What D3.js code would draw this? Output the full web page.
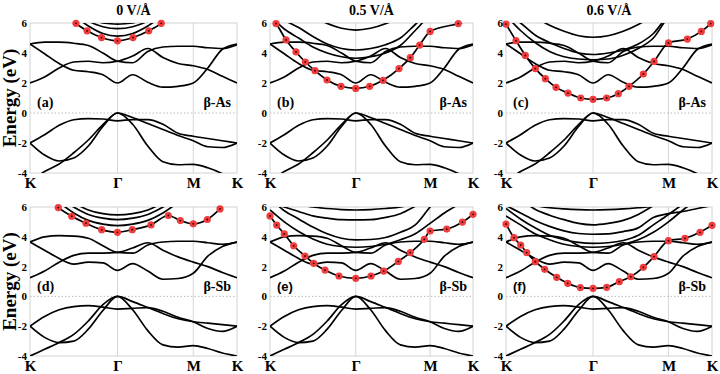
<!DOCTYPE html>
<meta charset="utf-8">
<style>
body { margin: 0; background: #fff; }
svg { display: block; }
.band { fill: none; stroke: #000; stroke-width: 1.7; }
.frame { fill: none; stroke: #d2d2d2; stroke-width: 1; }
.grid { stroke: #d6d6d6; stroke-width: 1; }
.zero { stroke: #bdbdbd; stroke-width: 1; stroke-dasharray: 1.5,2; }
.serif { font-family: "Liberation Serif", "Times New Roman", serif; font-weight: bold; }
.sans { font-family: "Liberation Sans", Arial, sans-serif; font-weight: bold; }
</style>
<svg width="720" height="374"></svg>
<script src="https://d3js.org/d3.v7.min.js"></script>
<script>

// k path K - Γ - M - K (segment lengths) and sampling steps per segment
var segLen = [1.3333, 1.1547, 0.6667];
var kSteps = [6, 5, 3];
var kLabels = ["K", "Γ", "M", "K"];
var yTicks = [6, 4, 2, 0, -2, -4];
var fields = ["0 V/Å", "0.5 V/Å", "0.6 V/Å"];
var panelTags = ["(a)", "(b)", "(c)", "(d)", "(e)", "(f)"];
var materials = ["β-As", "β-Sb"];

// beta-As bands, same in (a)-(c): energy (eV) on the k grid
var asBands = [
  [-2.0, -1.45, -0.82, -0.45, -0.37, -0.4, -0.52, -0.44, -0.44, -0.75, -1.35, -1.55, -1.7, -1.85, -2.0],
  [-2.0, -2.8, -3.2, -3.0, -2.2, -0.9, 0, -0.75, -2.2, -3.25, -3.45, -3.42, -3.65, -4.05, -4.6],
  [-4.6, -3.9, -3.4, -2.65, -1.8, -0.78, 0, -0.3, -0.7, -1.1, -1.5, -1.85, -2.25, -2.3, -2.0],
  [4.6, 4.72, 4.72, 4.65, 4.5, 4.0, 3.45, 3.35, 4.1, 4.4, 4.45, 4.45, 4.35, 4.3, 4.55],
  [4.6, 3.95, 3.3, 2.85, 2.75, 2.55, 2.0, 2.55, 2.05, 1.72, 1.78, 2.0, 3.0, 4.25, 4.6],
  [2.0, 2.4, 3.0, 3.4, 3.45, 3.35, 3.45, 3.8, 4.3, 3.7, 3.3, 3.15, 2.9, 2.45, 2.0]
];

// beta-Sb bands, same in (d)-(f)
var sbBands = [
  [-2.0, -1.35, -0.9, -0.68, -0.62, -0.72, -0.85, -0.8, -0.75, -1.0, -1.4, -1.7, -2.15, -2.35, -2.0],
  [-2.0, -2.75, -3.1, -3.0, -2.2, -0.95, 0, -0.9, -2.3, -3.25, -3.4, -3.3, -3.5, -3.8, -4.0],
  [-4.0, -3.55, -3.1, -2.55, -1.65, -0.55, 0, -0.35, -0.75, -1.15, -1.5, -1.7, -1.8, -1.9, -2.0],
  [3.65, 4.0, 4.08, 4.05, 3.9, 3.4, 2.95, 2.9, 3.45, 3.65, 3.7, 3.7, 3.6, 3.5, 3.65],
  [3.65, 3.1, 2.55, 2.17, 2.3, 2.25, 1.75, 2.2, 1.7, 1.15, 1.2, 1.55, 2.7, 3.35, 3.65],
  [1.25, 1.7, 2.3, 2.75, 2.9, 2.9, 2.95, 3.25, 3.6, 3.1, 2.65, 2.3, 2.0, 1.6, 1.25]
];

// upper (field dependent) bands per panel
var extraA = [
  [7, 7, 7, 6.5, 5.8, 5.3, 5.13, 5.3, 5.8, 6.5, 7, 7, 7, 7, 7],
  [7, 7, 7, 7, 6.15, 5.75, 5.62, 5.75, 6.15, 7, 7, 7, 7, 7, 7],
  [7, 7, 7, 7, 6.5, 6.0, 5.93, 6.0, 6.5, 7, 7, 7, 7, 7, 7]
];
var extraB = [
  [7, 7, 7, 6.4, 5.97, 5.65, 5.53, 5.65, 5.95, 6.4, 7, 7, 7, 7, 7],
  [7, 6.2, 5.7, 5.1, 4.6, 4.3, 4.2, 4.3, 4.55, 5.0, 5.9, 6.8, 7, 7, 7],
  [6.5, 5.6, 5.0, 4.4, 4.0, 3.75, 3.65, 3.75, 4.0, 4.5, 5.5, 6.5, 7, 7, 7]
];
var extraC = [
  [7, 7, 6.4, 5.85, 5.45, 5.15, 5.05, 5.15, 5.45, 5.9, 6.5, 7, 7, 7, 7],
  [6.6, 6.0, 5.2, 4.7, 4.3, 4.0, 3.9, 4.0, 4.2, 4.6, 5.3, 6.5, 7, 7, 7],
  [6.5, 5.5, 4.7, 4.1, 3.75, 3.6, 3.55, 3.6, 3.85, 4.3, 5.0, 6.4, 7, 7, 7]
];
var extraD = [
  [7, 7, 6.3, 5.6, 5.1, 4.85, 4.75, 4.85, 5.1, 5.6, 6.3, 7, 7, 7, 7],
  [7, 7, 6.6, 6.0, 5.5, 5.25, 5.15, 5.25, 5.5, 6.0, 6.6, 7, 7, 7, 7],
  [7, 7, 7, 6.3, 5.8, 5.55, 5.47, 5.55, 5.8, 6.3, 7, 7, 7, 7, 7]
];
var extraE = [
  [7, 6.6, 6.2, 6.0, 5.9, 5.83, 5.8, 5.83, 5.9, 6.0, 6.3, 7, 7, 7, 7],
  [6.4, 6.0, 5.7, 5.4, 5.25, 5.15, 5.13, 5.15, 5.3, 5.55, 6.05, 6.6, 7, 7, 7],
  [6.6, 5.75, 5.2, 4.65, 4.2, 3.9, 3.79, 3.82, 3.95, 4.3, 4.8, 6.0, 7, 7, 7],
  [5.8, 5.0, 4.35, 3.85, 3.5, 3.35, 3.3, 3.35, 3.5, 3.8, 4.2, 4.9, 5.6, 6.2, 7]
];
var extraF = [
  [7, 6.3, 6.1, 5.95, 5.87, 5.82, 5.8, 5.82, 5.87, 5.95, 6.05, 6.3, 7, 7, 7],
  [7, 6.5, 5.85, 5.45, 5.15, 4.9, 4.8, 4.9, 5.1, 5.5, 6.1, 6.8, 7, 7, 7],
  [6.1, 5.6, 5.1, 4.7, 4.4, 4.22, 4.17, 4.2, 4.35, 4.6, 5.3, 5.55, 5.7, 5.9, 6.1],
  [5.9, 5.2, 4.6, 4.1, 3.8, 3.62, 3.56, 3.6, 3.75, 4.1, 4.8, 5.5, 6.2, 7, 7],
  [5.4, 4.8, 4.2, 3.8, 3.5, 3.35, 3.3, 3.35, 3.5, 3.8, 4.3, 5.0, 5.8, 6.5, 7]
];

// red-marked band: [k, energy]; points at or below 6 eV carry a marker
var redA = [[0.5, 6.9], [0.70, 5.98], [0.87, 5.48], [1.09, 5.03], [1.333, 4.81], [1.57, 5.03],
  [1.81, 5.48], [2.0, 5.98], [2.2, 6.9]];
var redB = [[0, 6.35], [0.093, 5.96], [0.249, 4.87], [0.404, 4.07], [0.549, 3.4], [0.699, 2.82],
  [0.886, 2.2], [1.103, 1.78], [1.333, 1.64], [1.549, 1.78], [1.756, 2.18], [2.005, 2.96],
  [2.18, 3.69], [2.326, 4.53], [2.488, 5.44], [2.926, 5.96], [3.155, 6.25]];
var redC = [[0, 5.93], [0.153, 4.82], [0.296, 3.84], [0.449, 2.96], [0.603, 2.29], [0.766, 1.71],
  [0.949, 1.33], [1.144, 1.0], [1.333, 0.91], [1.542, 1.0], [1.72, 1.29], [1.884, 1.78],
  [2.103, 2.6], [2.267, 3.44], [2.488, 4.67], [2.777, 4.93], [2.991, 5.44], [3.135, 5.96], [3.155, 6.05]];
var redD = [[0.25, 6.7], [0.431, 5.96], [0.636, 5.38], [0.853, 4.91], [1.093, 4.48], [1.333, 4.3],
  [1.559, 4.48], [1.844, 4.8], [2.108, 5.43], [2.291, 5.09], [2.488, 4.87], [2.702, 5.16],
  [2.896, 5.87], [3.05, 6.6]];
var redE = [[0, 5.4], [0.104, 4.79], [0.222, 4.19], [0.368, 3.4], [0.544, 2.71], [0.679, 2.22],
  [0.855, 1.77], [1.072, 1.37], [1.333, 1.21], [1.57, 1.37], [1.767, 1.7], [1.994, 2.35],
  [2.18, 2.94], [2.398, 3.83], [2.488, 4.39], [2.747, 4.52], [2.99, 4.99], [3.155, 5.51]];
var redF = [[0, 4.86], [0.1225, 3.94], [0.225, 3.45], [0.317, 2.94], [0.449, 2.33], [0.593, 1.82],
  [0.776, 1.28], [0.945, 0.88], [1.138, 0.59], [1.333, 0.54], [1.542, 0.61], [1.735, 0.99],
  [1.91, 1.32], [2.103, 1.95], [2.267, 2.67], [2.488, 3.74], [2.741, 3.9], [2.971, 4.3], [3.155, 4.77]];

var svg = d3.select("svg");

var xCols = [[30, 237], [270, 473], [506, 712]];
var yRows = [[23, 173], [207, 356]];

var kGrid = [0];
segLen.forEach(function(len, s) {
  var k0 = kGrid[kGrid.length - 1];
  for (var j = 1; j <= kSteps[s]; j++) kGrid.push(k0 + len * j / kSteps[s]);
});
var kMarks = [0];
segLen.forEach(function(len) { kMarks.push(kMarks[kMarks.length - 1] + len); });
var kEnd = kMarks[3];

var panels = [
  {row: 0, col: 0, bands: asBands, extra: extraA, red: redA},
  {row: 0, col: 1, bands: asBands, extra: extraB, red: redB},
  {row: 0, col: 2, bands: asBands, extra: extraC, red: redC},
  {row: 1, col: 0, bands: sbBands, extra: extraD, red: redD},
  {row: 1, col: 1, bands: sbBands, extra: extraE, red: redE},
  {row: 1, col: 2, bands: sbBands, extra: extraF, red: redF}
];

panels.forEach(function(p, i) {
  var xr = xCols[p.col], yr = yRows[p.row];
  var x = d3.scaleLinear().domain([0, kEnd]).range(xr);
  var y = d3.scaleLinear().domain([-4, 6]).range([yr[1], yr[0]]);
  var g = svg.append("g");

  g.append("clipPath").attr("id", "clip" + i)
    .append("rect")
    .attr("x", xr[0]).attr("y", yr[0])
    .attr("width", xr[1] - xr[0]).attr("height", yr[1] - yr[0]);

  g.selectAll("line.grid").data(kMarks.slice(1, 3)).enter().append("line")
    .attr("class", "grid")
    .attr("x1", function(d) { return x(d); }).attr("x2", function(d) { return x(d); })
    .attr("y1", yr[0]).attr("y2", yr[1]);

  g.append("line").attr("class", "zero")
    .attr("x1", xr[0]).attr("x2", xr[1])
    .attr("y1", y(0)).attr("y2", y(0));

  g.append("rect").attr("class", "frame")
    .attr("x", xr[0]).attr("y", yr[0])
    .attr("width", xr[1] - xr[0]).attr("height", yr[1] - yr[0]);

  var band = d3.line()
    .x(function(d, j) { return x(kGrid[j]); })
    .y(function(d) { return y(d); })
    .curve(d3.curveMonotoneX);

  var redLine = d3.line()
    .x(function(d) { return x(d[0]); })
    .y(function(d) { return y(d[1]); })
    .curve(d3.curveMonotoneX);

  var plot = g.append("g").attr("clip-path", "url(#clip" + i + ")");
  plot.selectAll("path.band").data(p.bands.concat(p.extra)).enter().append("path")
    .attr("class", "band")
    .attr("d", band);
  plot.append("path").attr("class", "band").attr("d", redLine(p.red));

  var dots = p.red.filter(function(d) { return d[1] <= 6.0; });
  g.selectAll("circle.dot").data(dots).enter().append("circle")
    .attr("cx", function(d) { return x(d[0]); })
    .attr("cy", function(d) { return y(d[1]); })
    .attr("r", 3.6)
    .attr("fill", "#f03c3c");
  g.selectAll("circle.core").data(dots).enter().append("circle")
    .attr("cx", function(d) { return x(d[0]); })
    .attr("cy", function(d) { return y(d[1]); })
    .attr("r", 0.9)
    .attr("fill", "#2a0000");

  // axes
  var ay = g.append("g")
    .attr("transform", "translate(" + xr[0] + ",0)")
    .call(d3.axisLeft(y).tickValues(yTicks).tickSize(0).tickPadding(3)
      .tickFormat(function(d) { return String(d); }));
  ay.select(".domain").remove();
  ay.selectAll("text").attr("class", "serif").style("font-size", "11px").attr("fill", "#000");

  var ax = g.append("g")
    .attr("transform", "translate(0," + yr[1] + ")")
    .call(d3.axisBottom(x).tickValues(kMarks).tickSize(0).tickPadding(4)
      .tickFormat(function(d, j) { return kLabels[j]; }));
  ax.select(".domain").remove();
  ax.selectAll("text").attr("class", "serif").style("font-size", "15px").attr("fill", "#000");

  // panel tag and material
  g.append("text")
    .attr("class", i >= 4 ? "sans" : "serif")
    .attr("x", xr[0] + 7).attr("y", yr[0] + 84)
    .style("font-size", i >= 4 ? "13px" : "14px")
    .text(panelTags[i]);
  g.append("text")
    .attr("class", "serif")
    .attr("x", xr[1] - 6).attr("y", yr[0] + 84)
    .attr("text-anchor", "end")
    .style("font-size", "14px")
    .text(materials[p.row]);

  if (p.row === 0) {
    g.append("text")
      .attr("class", "serif")
      .attr("x", (xr[0] + xr[1]) / 2).attr("y", 15)
      .attr("text-anchor", "middle")
      .style("font-size", "14px")
      .text(fields[p.col]);
  }
  if (p.col === 0) {
    g.append("text")
      .attr("class", "serif")
      .attr("transform", "translate(16," + ((yr[0] + yr[1]) / 2) + ") rotate(-90)")
      .attr("text-anchor", "middle")
      .style("font-size", "19px")
      .text("Energy (eV)");
  }
});

</script>
